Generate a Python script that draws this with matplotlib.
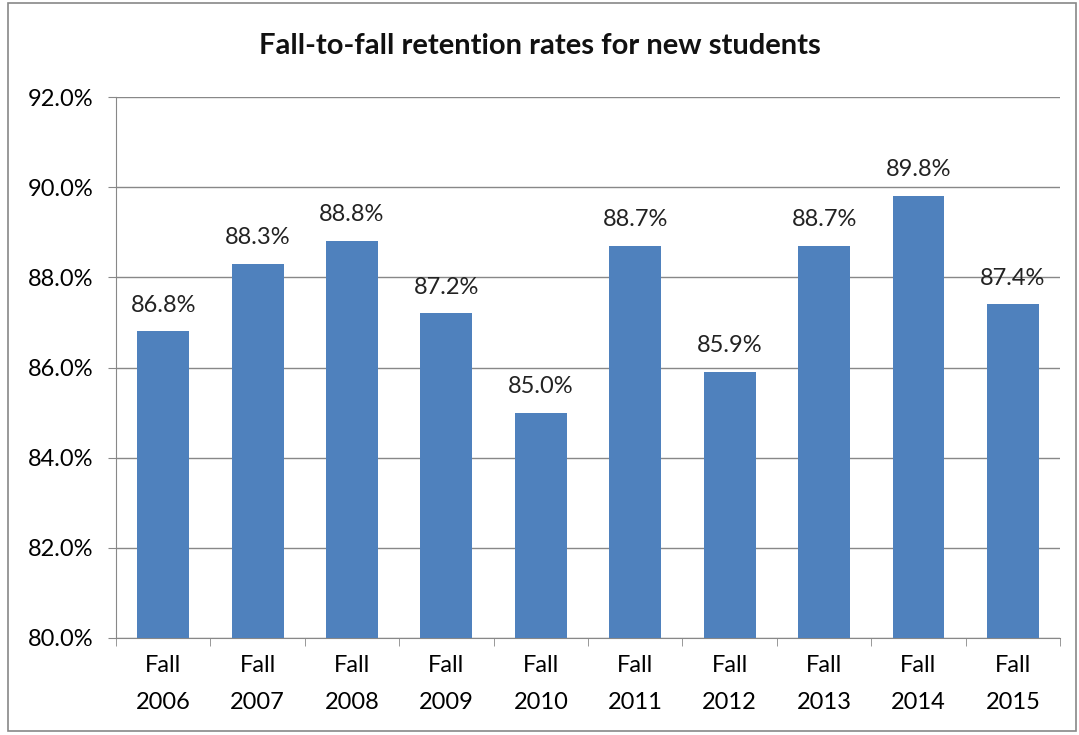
import matplotlib.pyplot as plt
from matplotlib.patches import Rectangle
from matplotlib.ticker import FixedLocator, FuncFormatter
import numpy as np

plt.rcParams['font.family'] = ['Lato', 'DejaVu Sans']

# Data
terms = ['Fall\n2006', 'Fall\n2007', 'Fall\n2008', 'Fall\n2009', 'Fall\n2010',
         'Fall\n2011', 'Fall\n2012', 'Fall\n2013', 'Fall\n2014', 'Fall\n2015']
rates = [86.8, 88.3, 88.8, 87.2, 85.0, 88.7, 85.9, 88.7, 89.8, 87.4]

fig = plt.figure(figsize=(10.79, 7.35), dpi=100)
ax = fig.add_axes([0.1075, 0.132, 0.875, 0.736])

# Outer chart border
fig.patches.append(Rectangle((0.007, 0.006), 0.99, 0.99, transform=fig.transFigure,
                             fill=False, edgecolor='#888888', linewidth=1.2))

x = np.arange(len(terms))
ax.bar(x, rates, width=0.55, color='#4F81BD', zorder=3)

for xi, r in zip(x, rates):
    ax.text(xi, r + 0.35, f'{r:.1f}%', ha='center', va='bottom', fontsize=17, color='#222222')

ax.set_ylim(80, 92)
ax.set_xlim(-0.5, len(terms) - 0.5)
ax.set_yticks(np.arange(80, 92.1, 2))
ax.yaxis.set_major_formatter(FuncFormatter(lambda v, p: f'{v:.1f}%'))
ax.grid(axis='y', color='#888888', linewidth=1, zorder=0)

ax.set_xticks(x)
ax.set_xticklabels(terms, linespacing=1.95)
ax.xaxis.set_minor_locator(FixedLocator(np.arange(-0.5, len(terms), 1)))
ax.tick_params(axis='x', which='major', length=0, pad=12, labelsize=17)
ax.tick_params(axis='x', which='minor', length=6, color='#888888')
ax.tick_params(axis='y', length=6, color='#888888', labelsize=17, pad=10)

for s in ['top', 'right']:
    ax.spines[s].set_visible(False)
for s in ['left', 'bottom']:
    ax.spines[s].set_color('#888888')

fig.text(0.5, 0.937, 'Fall-to-fall retention rates for new students', ha='center',
         va='center', fontsize=21, fontweight='bold', color='#111111')

plt.savefig('out.png', dpi=100)
